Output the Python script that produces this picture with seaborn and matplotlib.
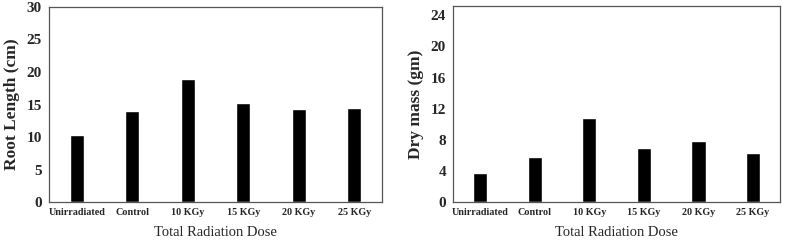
import matplotlib
matplotlib.use("Agg")
import matplotlib.pyplot as plt
import seaborn as sns
import pandas as pd

categories = ["Unirradiated", "Control", "10 KGy", "15 KGy", "20 KGy", "25 KGy"]
root_length = [10.35, 14.0, 18.95, 15.2, 14.3, 14.5]
dry_mass = [3.75, 5.8, 10.8, 7.0, 7.85, 6.3]
root_ticks = [0, 5, 10, 15, 20, 25, 30]
mass_ticks = [0, 4, 8, 12, 16, 20, 24]

sns.set_theme(style="white")
plt.rcParams["font.family"] = ["Liberation Serif", "DejaVu Serif"]

fig = plt.figure(figsize=(7.85, 2.4), dpi=100)
ax1 = fig.add_axes([0.0624, 0.158, 0.4242, 0.813])
ax2 = fig.add_axes([0.577, 0.158, 0.417, 0.817])

df1 = pd.DataFrame({"cat": categories, "val": root_length})
df2 = pd.DataFrame({"cat": categories, "val": dry_mass})

for ax, df, ticks, ylim, ylabel in [
    (ax1, df1, root_ticks, (0, 30), "Root Length (cm)"),
    (ax2, df2, mass_ticks, (0, 25.2), "Dry mass (gm)"),
]:
    sns.barplot(data=df, x="cat", y="val", color="black", width=0.26,
                saturation=1, ax=ax, errorbar=None)
    ax.set_xlim(-0.5, 5.5)
    ax.set_ylim(*ylim)
    ax.set_yticks(ticks)
    ax.set_yticklabels([str(t) for t in ticks], fontsize=11, fontweight="bold")
    ax.set_xticks(range(len(categories)))
    ax.set_xticklabels(categories, fontsize=7.3, fontweight="bold")
    ax.set_xlabel("Total Radiation Dose", fontsize=10.5, labelpad=7)
    ax.set_ylabel(ylabel, fontsize=12.5, fontweight="bold", labelpad=5)
    ax.tick_params(axis="y", direction="out", length=3, width=0.8, color="#555555", pad=2)
    ax.tick_params(axis="x", length=0, pad=4)
    for s in ax.spines.values():
        s.set_color("#555555")
        s.set_linewidth(0.9)

fig.savefig("out.png", dpi=100)
